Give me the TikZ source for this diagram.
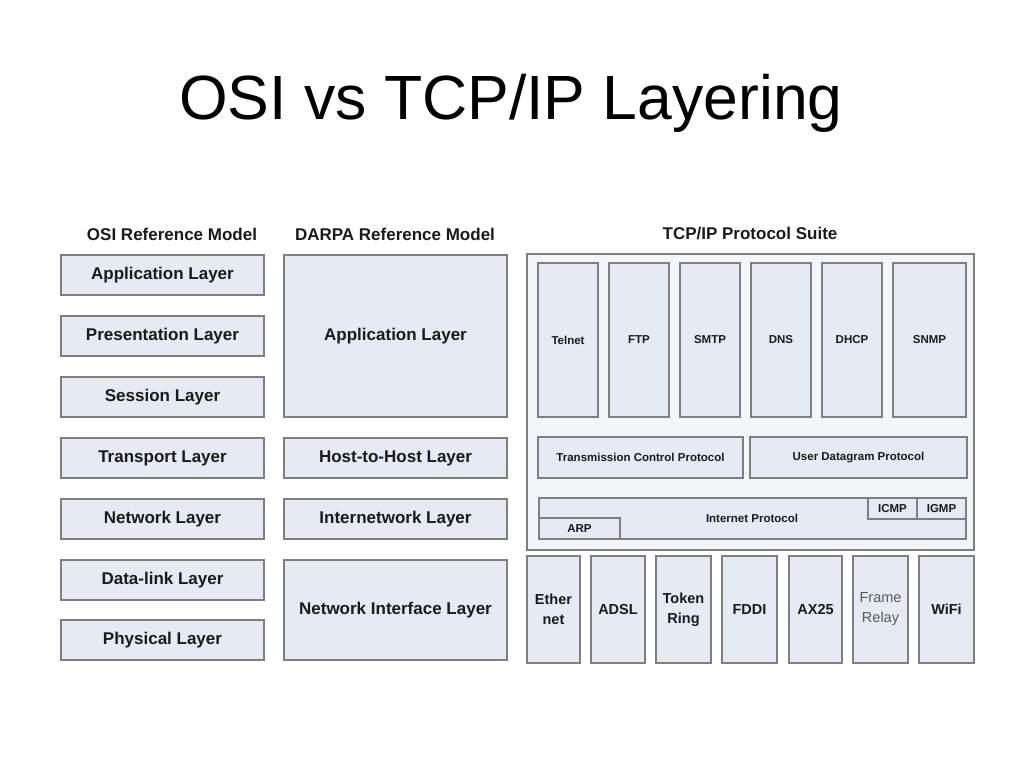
\documentclass[tikz,border=0pt]{standalone}
\usepackage{fontspec}
\setmainfont{Liberation Sans}
\definecolor{boxfill}{HTML}{E6EAF2}
\definecolor{outerfill}{HTML}{F3F5F9}
\definecolor{boxline}{HTML}{7F7F7F}
\definecolor{txt}{HTML}{1A1A1A}
\newcommand{\lbox}[7]{\node[#6, minimum width={(#4-#2)*1pt}, minimum height={(#5-#3)*1pt}] (#1) at ({(#2+#4)/2},{(#3+#5)/2}) {#7};}
\tikzset{
  layer/.style={draw=boxline, fill=boxfill, line width=1.3pt, inner sep=0pt, text=txt,
    font=\fontsize{17}{20}\selectfont\bfseries},
  small/.style={layer, font=\fontsize{11.5}{14}\selectfont\bfseries},
  link/.style={layer, align=center, font=\fontsize{14.5}{20}\selectfont\bfseries},
  outer/.style={draw=boxline, fill=outerfill, line width=1.5pt, inner sep=0pt},
  header/.style={text=txt, font=\fontsize{17}{20}\selectfont\bfseries, inner sep=0pt},
  plain/.style={text=txt, inner sep=0pt, font=\fontsize{11.5}{14}\selectfont\bfseries}
}
\begin{document}
\begin{tikzpicture}[x=1pt,y=-1pt]
\useasboundingbox[fill=white] (0,0) rectangle (1024,768);
\node[inner sep=0pt, font=\fontsize{62.5}{70}\selectfont, anchor=base] (title) at (511,119) {OSI vs TCP/IP Layering};
% headers
\node[header] (hosi) at (172,234) {OSI Reference Model};
\node[header] (hdarpa) at (395,234) {DARPA Reference Model};
\node[header] (htcp) at (750,234) {TCP/IP Protocol Suite};
% OSI
\lbox{o7}{61}{255}{264}{295}{layer}{Application Layer}
\lbox{o6}{61}{316}{264}{356}{layer}{Presentation Layer}
\lbox{o5}{61}{377}{264}{417}{layer}{Session Layer}
\lbox{o4}{61}{438}{264}{478}{layer}{Transport Layer}
\lbox{o3}{61}{499}{264}{539}{layer}{Network Layer}
\lbox{o2}{61}{560}{264}{600}{layer}{Data-link Layer}
\lbox{o1}{61}{620}{264}{660}{layer}{Physical Layer}
% DARPA
\lbox{d4}{284}{255}{507}{417}{layer}{Application Layer}
\lbox{d3}{284}{438}{507}{478}{layer}{Host-to-Host Layer}
\lbox{d2}{284}{499}{507}{539}{layer}{Internetwork Layer}
\lbox{d1}{284}{560}{507}{660}{layer}{Network Interface Layer}
% TCP/IP suite
\lbox{suite}{527}{254}{974}{550}{outer}{}
\lbox{telnet}{538}{263}{598}{417}{small}{Telnet}
\lbox{ftp}{609}{263}{669}{417}{small}{FTP}
\lbox{smtp}{680}{263}{740}{417}{small}{SMTP}
\lbox{dns}{751}{263}{811}{417}{small}{DNS}
\lbox{dhcp}{822}{263}{882}{417}{small}{DHCP}
\lbox{snmp}{893}{263}{966}{417}{small}{SNMP}
\lbox{tcp}{538}{437}{743}{478}{small}{Transmission Control Protocol}
\lbox{udp}{750}{437}{967}{478}{small}{User Datagram Protocol}
\lbox{ip}{539}{498}{966}{539}{small}{}
\node[plain] (iplabel) at (752,518) {Internet Protocol};
\lbox{icmp}{868}{498}{917}{519}{small}{ICMP}
\lbox{igmp}{917}{498}{966}{519}{small}{IGMP}
\lbox{arp}{539}{518}{620}{539}{small}{ARP}
% link layer
\lbox{eth}{527}{556}{580}{663}{link}{Ether\\net}
\lbox{adsl}{591}{556}{645}{663}{link}{ADSL}
\lbox{token}{656}{556}{711}{663}{link}{Token\\Ring}
\lbox{fddi}{722}{556}{777}{663}{link}{FDDI}
\lbox{ax25}{789}{556}{842}{663}{link}{AX25}
\lbox{frame}{853}{556}{908}{663}{link, font=\fontsize{14.5}{20}\selectfont, text=black!65}{Frame\\Relay}
\lbox{wifi}{919}{556}{974}{663}{link}{WiFi}
\end{tikzpicture}
\end{document}
